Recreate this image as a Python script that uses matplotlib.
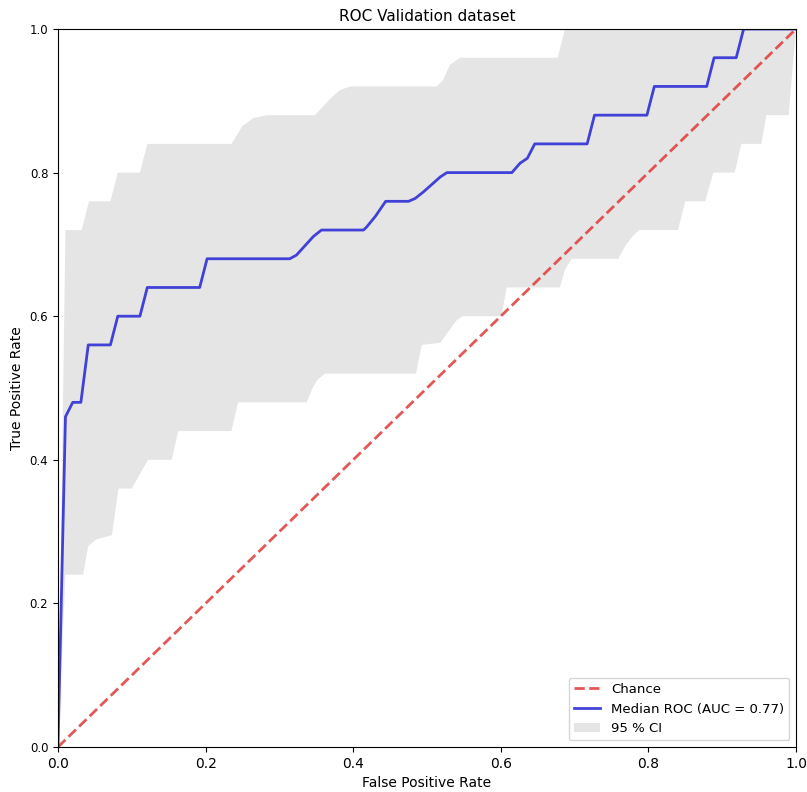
import matplotlib
matplotlib.use("Agg")
import matplotlib.pyplot as plt

# median ROC (vertices)
median_fpr = [0.0, 0.0101, 0.020, 0.031, 0.041, 0.071, 0.081, 0.111, 0.121, 0.192, 0.202,
              0.314, 0.323, 0.346, 0.357, 0.364, 0.414, 0.418, 0.430, 0.436, 0.444, 0.475,
              0.484, 0.495, 0.506, 0.518, 0.527, 0.615, 0.626, 0.636, 0.646, 0.717, 0.727,
              0.798, 0.808, 0.879, 0.889, 0.919, 0.929, 1.0]
median_tpr = [0.0, 0.46, 0.48, 0.48, 0.56, 0.56, 0.60, 0.60, 0.64, 0.64, 0.68,
              0.68, 0.685, 0.711, 0.72, 0.72, 0.72, 0.724, 0.739, 0.748, 0.76, 0.76,
              0.764, 0.773, 0.783, 0.794, 0.80, 0.80, 0.813, 0.82, 0.84, 0.84, 0.88,
              0.88, 0.92, 0.92, 0.96, 0.96, 1.0, 1.0]

# 95 % CI bounds
upper_fpr = [0.0, 0.0101, 0.032, 0.042, 0.071, 0.081, 0.111, 0.121, 0.235, 0.250, 0.265,
             0.283, 0.348, 0.369, 0.382, 0.396, 0.513, 0.522, 0.531, 0.545, 0.677, 0.687, 1.0]
upper_tpr = [0.0, 0.72, 0.72, 0.76, 0.76, 0.80, 0.80, 0.84, 0.84, 0.865, 0.876,
             0.88, 0.88, 0.903, 0.915, 0.92, 0.92, 0.929, 0.95, 0.96, 0.96, 1.0, 1.0]

lower_fpr = [0.0, 0.0101, 0.034, 0.041, 0.052, 0.073, 0.082, 0.100, 0.122, 0.154, 0.163,
             0.235, 0.244, 0.337, 0.345, 0.352, 0.362, 0.485, 0.493, 0.518, 0.530, 0.540,
             0.548, 0.601, 0.608, 0.680, 0.687, 0.696, 0.759, 0.770, 0.780, 0.788, 0.840,
             0.850, 0.877, 0.888, 0.917, 0.926, 0.953, 0.960, 0.990, 1.0]
lower_tpr = [0.0, 0.24, 0.24, 0.28, 0.289, 0.295, 0.36, 0.36, 0.40, 0.40, 0.44,
             0.44, 0.48, 0.48, 0.50, 0.512, 0.52, 0.52, 0.56, 0.563, 0.58, 0.594,
             0.60, 0.60, 0.64, 0.64, 0.665, 0.68, 0.68, 0.70, 0.713, 0.72, 0.72,
             0.76, 0.76, 0.80, 0.80, 0.84, 0.84, 0.88, 0.88, 1.0]

auc_median = 0.77


def main() -> None:
    fig = plt.figure(figsize=(8.07, 7.92), dpi=100)
    ax = fig.add_axes([58 / 807, 1 - 747 / 792, 738 / 807, 718 / 792])

    ax.plot([0, 1], [0, 1], linestyle="--", lw=2, color="#e03a3a", alpha=0.85, label="Chance")
    ax.plot(median_fpr, median_tpr, color="#2f2fd6", lw=2, alpha=0.9,
            label=f"Median ROC (AUC = {auc_median:.2f})")

    # CI bounds are sampled at different x, so close them into one polygon
    poly_x = upper_fpr + lower_fpr[::-1]
    poly_y = upper_tpr + lower_tpr[::-1]
    ax.fill(poly_x, poly_y, color="grey", alpha=0.2, lw=0, label="95 % CI")

    ax.set_xlim(0, 1)
    ax.set_ylim(0, 1)
    ax.set_xlabel("False Positive Rate", fontsize=10)
    ax.set_ylabel("True Positive Rate", fontsize=10)
    ax.set_title("ROC Validation dataset", fontsize=11)
    ax.tick_params(axis="y", labelsize=8.5)
    ax.tick_params(axis="x", labelsize=10)

    ax.legend(loc="lower right", fontsize=9.5)

    fig.savefig("out.png", dpi=100)
    plt.close(fig)


if __name__ == "__main__":
    main()
